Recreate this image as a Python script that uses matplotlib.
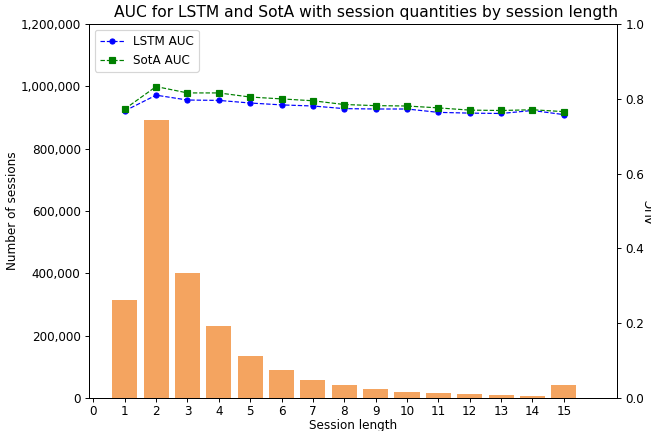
import matplotlib
matplotlib.use("Agg")
import matplotlib.pyplot as plt
from matplotlib.ticker import FuncFormatter

# Session lengths and their counts
session_length = list(range(1, 16))
session_counts = [314000, 892000, 401000, 231000, 135000, 90000, 58000, 42000,
                  29000, 19000, 16000, 13000, 10000, 7000, 42000]

# AUC per session length
lstm_auc = [0.768, 0.810, 0.797, 0.796, 0.789, 0.784, 0.781, 0.774,
            0.773, 0.773, 0.764, 0.762, 0.761, 0.769, 0.758]
sota_auc = [0.773, 0.833, 0.816, 0.816, 0.805, 0.800, 0.795, 0.785,
            0.782, 0.781, 0.776, 0.770, 0.769, 0.771, 0.766]

DPI = 86
fig, ax1 = plt.subplots(figsize=(651 / DPI, 431 / DPI), dpi=DPI)
fig.subplots_adjust(left=0.1367, right=0.948, top=0.944, bottom=0.0766)

ax1.bar(session_length, session_counts, color="sandybrown", width=0.8)
ax1.set_ylim(0, 1200000)
ax1.set_xlim(-0.14, 16.7)
ax1.set_xticks(range(0, 16))
ax1.tick_params(axis="x", pad=2.5)
ax1.yaxis.set_major_formatter(FuncFormatter(lambda v, p: "{:,.0f}".format(v)))
ax1.set_xlabel("Session length", labelpad=0.5)
ax1.set_ylabel("Number of sessions", labelpad=1)

ax2 = ax1.twinx()
ax2.plot(session_length, lstm_auc, "b--o", markersize=4.2, linewidth=1, label="LSTM AUC")
ax2.plot(session_length, sota_auc, "g--s", markersize=4.2, linewidth=1, label="SotA AUC")
ax2.set_ylim(0, 1.0)
ax2.set_ylabel("AUC", labelpad=0)
ax2.legend(loc="upper left")

ax1.set_title("AUC for LSTM and SotA with session quantities by session length",
              fontsize=13, x=0.525)

plt.savefig("out.png", dpi=DPI)
